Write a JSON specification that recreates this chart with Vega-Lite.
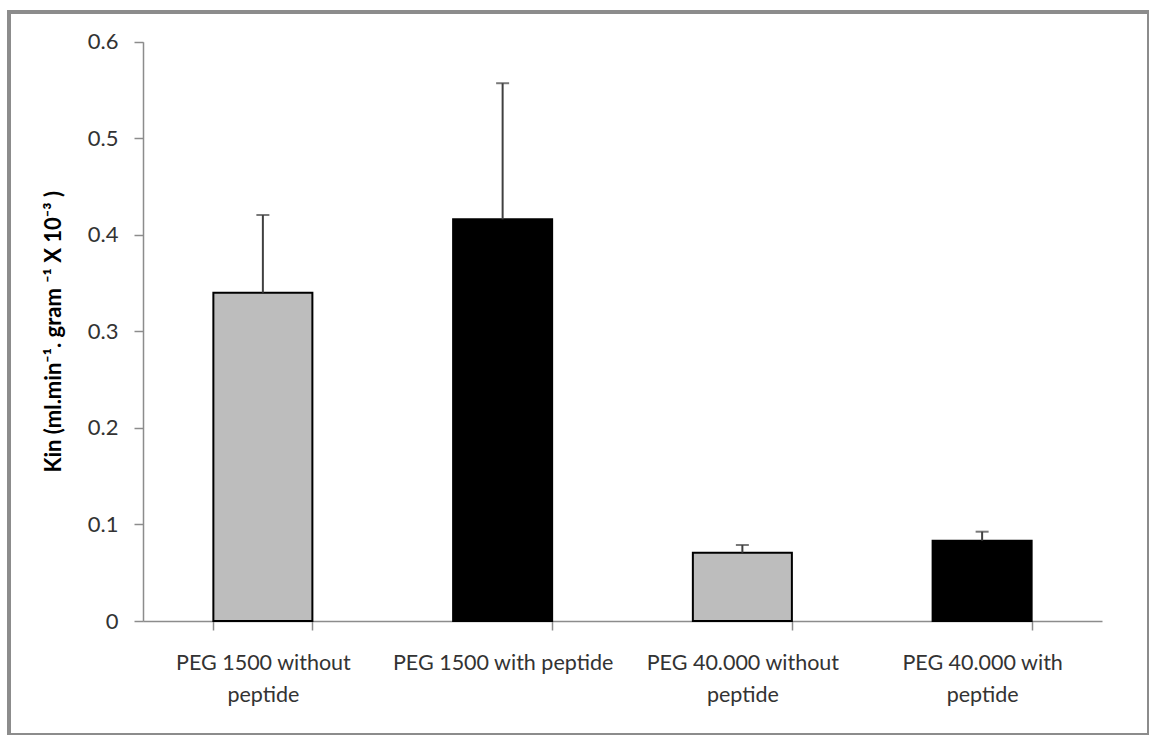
{
  "$schema": "https://vega.github.io/schema/vega-lite/v6.json",
  "width": 1140,
  "height": 723,
  "autosize": {"type": "none"},
  "padding": {"left": 9, "top": 12, "right": 0, "bottom": 0},
  "background": "white",
  "config": {
    "view": {"stroke": "#8c8c8c", "strokeWidth": 4},
    "font": "Lato"
  },
  "data": {
    "values": [
      {"group": "PEG 1500 without|peptide", "peptide": "without", "kin": 0.340, "upper": 0.4205},
      {"group": "PEG 1500 with  peptide", "peptide": "with", "kin": 0.416, "upper": 0.557},
      {"group": "PEG 40.000 without|peptide", "peptide": "without", "kin": 0.0707, "upper": 0.0787},
      {"group": "PEG 40.000 with|peptide", "peptide": "with", "kin": 0.0832, "upper": 0.0925}
    ]
  },
  "encoding": {
    "x": {
      "field": "group",
      "type": "nominal",
      "sort": null,
      "scale": {"range": [134, 1093], "paddingInner": 0.587, "paddingOuter": 0.2935},
      "axis": {
        "title": null,
        "offset": -114,
        "labelAngle": 0,
        "labelExpr": "isString(datum.value) ? split(datum.value, '|') : ''",
        "labelFontSize": 21.5,
        "labelLineHeight": 32,
        "labelLimit": 0,
        "labelColor": "#333333",
        "labelPadding": 22,
        "tickBand": "extent",
        "tickSize": 9,
        "tickColor": "#8c8c8c",
        "tickWidth": 1.5,
        "domainColor": "#8c8c8c",
        "domainWidth": 1.5
      }
    }
  },
  "layer": [
    {
      "mark": {"type": "bar", "stroke": "black", "strokeWidth": 2},
      "encoding": {
        "y": {
          "field": "kin",
          "type": "quantitative",
          "scale": {"domain": [0, 0.6], "range": [609, 29.7], "nice": false, "zero": true},
          "axis": {
            "title": "Kin (ml.min⁻¹. gram ⁻¹ X 10⁻³ )",
            "titleFontSize": 22,
            "titleFontWeight": "bold",
            "titleColor": "black",
            "titlePadding": 22,
            "offset": -134,
            "values": [0, 0.1, 0.2, 0.3, 0.4, 0.5, 0.6],
            "labelExpr": "datum.value == 0 ? '0' : format(datum.value, '.1f')",
            "labelFontSize": 22,
            "labelColor": "#333333",
            "labelPadding": 16,
            "tickSize": 9,
            "tickColor": "#8c8c8c",
            "tickWidth": 1.5,
            "domainColor": "#8c8c8c",
            "domainWidth": 1.5,
            "grid": false
          }
        },
        "color": {
          "field": "peptide",
          "type": "nominal",
          "scale": {"domain": ["without", "with"], "range": ["#bdbdbd", "#000000"]},
          "legend": null
        }
      }
    },
    {
      "mark": {"type": "rule", "stroke": "#404040", "strokeWidth": 2},
      "encoding": {
        "y": {"field": "kin", "type": "quantitative"},
        "y2": {"field": "upper"}
      }
    },
    {
      "mark": {"type": "tick", "color": "#404040", "size": 13, "thickness": 2, "orient": "horizontal"},
      "encoding": {
        "y": {"field": "upper", "type": "quantitative"}
      }
    }
  ]
}
